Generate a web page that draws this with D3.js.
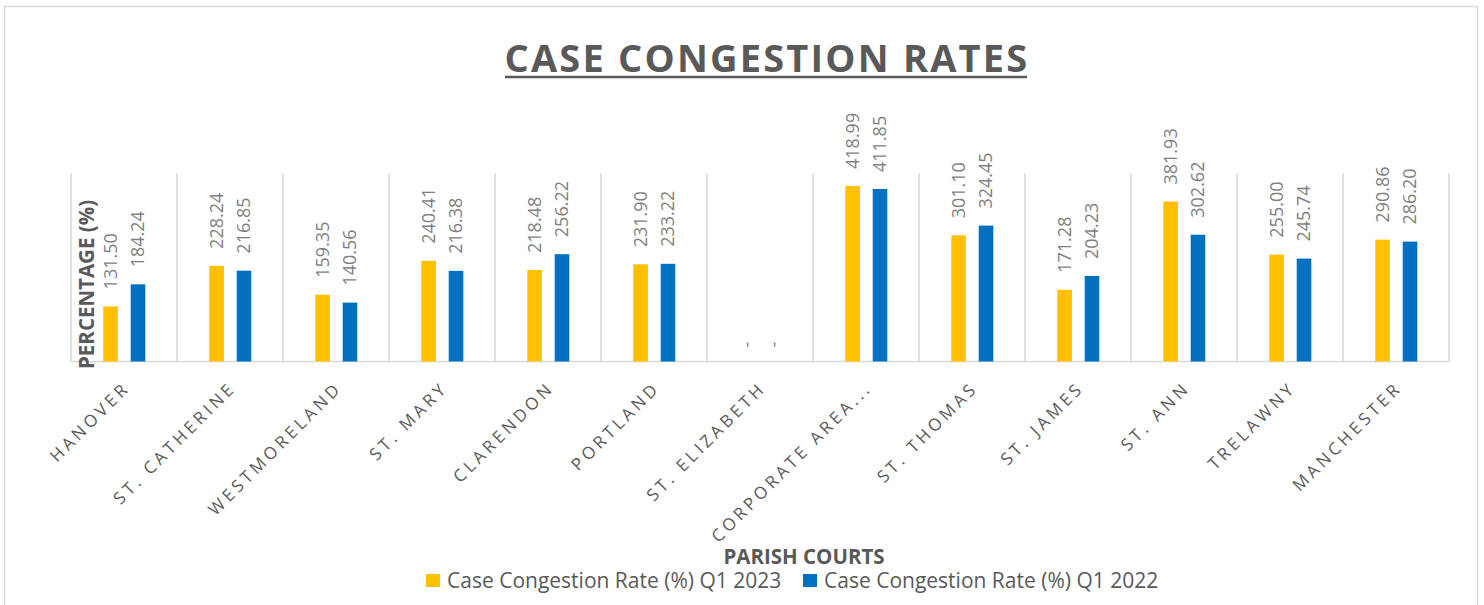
<!DOCTYPE html>
<html>
<head>
<meta charset="utf-8">
<script src="https://cdn.jsdelivr.net/npm/d3@7"></script>
<style>
  body { margin: 0; background: #fff; }
  text { font-family: "Open Sans", sans-serif; }
</style>
</head>
<body>
<div class="chart"></div>
<script>
// DATA ------------------------------
const parishes = ["HANOVER", "ST. CATHERINE", "WESTMORELAND", "ST. MARY", "CLARENDON", "PORTLAND",
  "ST. ELIZABETH", "CORPORATE AREA...", "ST. THOMAS", "ST. JAMES", "ST. ANN", "TRELAWNY", "MANCHESTER"];
const rate2023 = [131.50, 228.24, 159.35, 240.41, 218.48, 231.90, null, 418.99, 301.10, 171.28, 381.93, 255.00, 290.86];
const rate2022 = [184.24, 216.85, 140.56, 216.38, 256.22, 233.22, null, 411.85, 324.45, 204.23, 302.62, 245.74, 286.20];
const seriesNames = ["Case Congestion Rate (%) Q1 2023", "Case Congestion Rate (%) Q1 2022"];
const seriesKeys = ["q2023", "q2022"];
const colors = ["#FFC000", "#0070C0"];

const data = parishes.map((p, i) => ({parish: p, q2023: rate2023[i], q2022: rate2022[i]}));

// CHART INIT ------------------------------
const W = 1484, H = 605;
const plot = {left: 71, right: 1449, top: 173, bottom: 361.5};

const svg = d3.select(".chart")
  .append("svg")
  .attr("width", W)
  .attr("height", H);

// frame
svg.append("path")
  .attr("d", `M4.5,${H + 5} V6.5 H1477.5 V${H + 5}`)
  .attr("fill", "none")
  .attr("stroke", "#d9d9d9")
  .attr("stroke-width", 1.5);

// scales
const xScale = d3.scaleBand()
  .domain(parishes)
  .range([plot.left, plot.right]);

const xInner = d3.scaleBand()
  .domain(seriesKeys)
  .range([32.3, 74.3])
  .paddingInner(0.467);

const yScale = d3.scaleLinear()
  .domain([0, 450])
  .range([plot.bottom, plot.top]);

// category separators
svg.append("g")
  .selectAll("line")
  .data(parishes.concat(["__end"]))
  .enter()
  .append("line")
  .attr("x1", (d, i) => i < parishes.length ? xScale(d) : plot.right)
  .attr("x2", (d, i) => i < parishes.length ? xScale(d) : plot.right)
  .attr("y1", plot.top)
  .attr("y2", plot.bottom)
  .attr("stroke", "#d9d9d9")
  .attr("stroke-width", 1.5);

// baseline
svg.append("line")
  .attr("x1", plot.left).attr("x2", plot.right)
  .attr("y1", plot.bottom).attr("y2", plot.bottom)
  .attr("stroke", "#d9d9d9")
  .attr("stroke-width", 1.5);

// bars
const groups = svg.append("g")
  .selectAll("g")
  .data(data)
  .enter()
  .append("g")
  .attr("transform", d => `translate(${xScale(d.parish)},0)`);

seriesKeys.forEach((key, k) => {
  groups.filter(d => d[key] != null)
    .append("rect")
    .attr("x", xInner(key))
    .attr("width", xInner.bandwidth())
    .attr("y", d => yScale(d[key]))
    .attr("height", d => plot.bottom - yScale(d[key]))
    .attr("fill", colors[k]);

  // data labels
  groups.append("text")
    .attr("transform", d => {
      const v = d[key] == null ? 0 : d[key];
      const x = xInner(key) + xInner.bandwidth() / 2 + 6;
      const y = yScale(v) - (d[key] == null ? 14 : 17);
      return `translate(${x},${y}) rotate(-90)`;
    })
    .attr("fill", "#7f7f7f")
    .attr("font-size", 18)
    .text(d => d[key] == null ? "-" : d3.format(".2f")(d[key]));
});

// x axis labels
svg.append("g")
  .selectAll("text")
  .data(parishes)
  .enter()
  .append("text")
  .attr("transform", d => `translate(${xScale(d) + xScale.bandwidth() / 2 + 7},389) rotate(-45)`)
  .attr("text-anchor", "end")
  .attr("fill", "#595959")
  .attr("font-size", 17)
  .attr("letter-spacing", 3.6)
  .text(d => d);

// y axis title
svg.append("text")
  .attr("transform", "translate(94,369) rotate(-90)")
  .attr("fill", "#595959")
  .attr("font-size", 20.5)
  .attr("font-weight", "bold")
  .text("PERCENTAGE (%)");

// chart title
svg.append("text")
  .attr("x", 767)
  .attr("y", 72)
  .attr("text-anchor", "middle")
  .attr("fill", "#595959")
  .attr("font-size", 38)
  .attr("font-weight", "bold")
  .attr("letter-spacing", 2.2)
  .text("CASE CONGESTION RATES");

svg.append("line")
  .attr("x1", 505).attr("x2", 1027)
  .attr("y1", 77).attr("y2", 77)
  .attr("stroke", "#595959")
  .attr("stroke-width", 2.5);

// x axis title
svg.append("text")
  .attr("x", 804)
  .attr("y", 564)
  .attr("text-anchor", "middle")
  .attr("fill", "#595959")
  .attr("font-size", 20.5)
  .attr("font-weight", "bold")
  .text("PARISH COURTS");

// legend
const legendX = [426, 803];
const legend = svg.append("g")
  .selectAll("g")
  .data(seriesNames)
  .enter()
  .append("g")
  .attr("transform", (d, i) => `translate(${legendX[i]},574)`);

legend.append("rect")
  .attr("width", 14).attr("height", 13)
  .attr("fill", (d, i) => colors[i]);

legend.append("text")
  .attr("x", 21)
  .attr("y", 14)
  .attr("fill", "#595959")
  .attr("font-size", 21)
  .text(d => d);
</script>
</body>
</html>
